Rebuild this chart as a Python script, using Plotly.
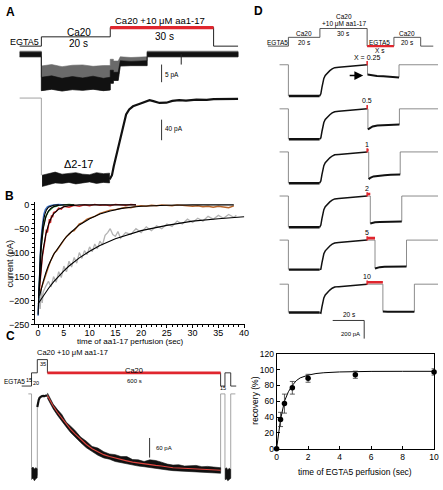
import plotly.graph_objects as go

W, H = 443, 490
FONT = "Liberation Sans, Arial, sans-serif"
RED = "#e0262e"
SKEL = "#6e6e6e"

# ======================= DATA =======================
# Panel A — perfusion protocol (s from start of Ca20; level 0=EGTA5, 1=Ca20, 2=Ca20+aa1-17)
A_PROTO_T = [-6.3, 0, 20, 50, 57.1]
A_PROTO_LEVEL = [0, 1, 2, 0, 0]
A_AA_T = [20, 50]

# Panel A — upper record (pA), envelopes of the noisy current
A1_T = [-6.3, 0.0, 0.0, 3.0, 6.0, 9.0, 12.0, 15.0, 18.0, 20.0, 20.0, 20.9, 20.9, 22.3, 22.9, 26.0, 30.7, 30.7, 57.1]
A1_CORE_HI = [0.5, 0.5, -6.6, -6.2, -6.9, -6.4, -6.8, -6.3, -6.9, -6.6, -4.6, -4.6, -5.2, -5.2, -1.9, -2.1, -1.9, 0.5, 0.5]
A1_CORE_LO = [-0.8, -0.8, -10.4, -10.0, -10.5, -10.1, -10.3, -10.0, -10.4, -10.2, -8.3, -8.3, -7.5, -7.5, -3.4, -3.3, -3.3, -0.8, -0.8]
A1_HALO_HI = [0.8, 0.8, -3.4, -3.0, -3.6, -3.2, -3.1, -3.5, -3.3, -3.3, -1.5, -1.5, -2.0, -2.0, -0.8, -1.0, -0.8, 0.8, 0.8]
A1_SPIKE_T = [40.6, 40.6]
A1_SPIKE_V = [0.0, -3.0]
A_SCALE1_PA = 5

# Panel A — lower record (Δ2-17), pA
A2_LEAD_T = [-6.3, 0, 0]
A2_LEAD_V = [0, 0, -150]
A2_BOT_T = [0.2, 2, 4, 6, 8, 10, 12, 14, 16, 18, 19.8]
A2_BOT_HI = [-150, -147, -144, -148, -146, -145, -148, -149, -145, -147, -146]
A2_BOT_LO = [-172, -168, -165, -166, -164, -167, -165, -163, -166, -164, -165]
A2_REC_T = [19.8, 20.5, 21, 22, 23, 24, 24.6, 25.5, 26.6, 28.6, 30.6, 31.4, 32.5, 34.3, 36.3, 38, 40, 42, 45, 48, 50, 53, 57.1]
A2_REC_V = [-158, -150, -133, -105, -78, -48, -32, -22, -16, -11, -6, -4, -6, -9.5, -9, -5.5, -4, -5, -3, -3.5, -2, -2, -1.5]
A_SCALE2_PA = 40

# Panel B — current during aa1-17 perfusion (s, pA)
B_BLUE_T = [0, 0.1, 0.2, 0.35, 0.5, 0.7, 0.9, 1.1, 1.4, 1.8, 2.3, 3, 4, 5]
B_BLUE_V = [-232, -200, -160, -118, -85, -55, -35, -20, -10, -4, -2, 0, 1, 0]
B_GREEN_T = [0.1, 0.3, 0.5, 0.7, 1, 1.3, 1.6, 2, 2.5, 3, 3.5, 4, 5, 6, 7]
B_GREEN_V = [-200, -135, -100, -75, -45, -32, -22, -14, -8, -4, -3, -1, 0, 1, 0]
B_RED_T = [0.2, 0.4, 0.6, 0.8, 1, 1.2, 1.4, 1.6, 1.8, 2, 2.2, 2.4, 2.6, 2.8, 3, 3.5, 4, 4.5, 5, 6, 7, 8, 9, 10, 11, 12, 13, 14, 15, 16, 17, 18, 19]
B_RED_V = [-185, -150, -135, -110, -98, -80, -70, -52, -58, -45, -30, -38, -22, -26, -16, -14, -7, -9, -3, -5, -1, -3, 0, -2, 1, -1, 0, -2, 1, 0, -1, 1, 0]
B_BROWN_T = [0.3, 0.5, 0.8, 1, 1.3, 1.6, 2, 2.4, 2.8, 3.2, 3.6, 4, 4.5, 5, 5.5, 6, 6.5, 7, 7.5, 8, 8.5, 9, 9.5, 10,
             11, 12, 13, 14, 15, 16, 17, 18, 19, 20, 21, 22, 23, 24, 25, 26, 27, 28, 29, 30, 31, 32, 33, 34, 35, 36, 37, 38]
B_BROWN_V = [-185, -178, -168, -160, -150, -140, -130, -118, -110, -100, -96, -90, -80, -75, -66, -62, -56, -54, -48, -40, -38, -34, -30, -28,
             -24, -18, -15, -11, -10, -7, -5, -6, -3, -2, -3, -1, -2, 0, -1, -2, 0, -1, -2, -3, -2, -4, -3, -5, -3, -4, -6, -2]
B_GRAY_T = [0, 0.2, 0.4, 0.6, 0.8, 1, 1.5, 2, 2.5, 3, 3.5, 4, 4.5, 5, 5.5, 6, 6.5, 7, 7.5, 8, 8.5, 9, 9.5, 10, 10.5, 11, 11.5, 12,
            12.5, 13, 13.5, 14, 14.5, 15, 15.5, 16, 17, 18, 19, 20, 21, 22, 23, 24, 25, 26, 27, 28, 29, 30, 31, 32, 33, 34, 35, 36, 37, 38, 38.5]
B_GRAY_V = [-228, -190, -218, -175, -205, -182, -170, -160, -172, -150, -162, -140, -152, -128, -140, -118, -130, -110, -122, -100, -112,
            -96, -104, -88, -98, -82, -92, -76, -84, -64, -58, -50, -62, -66, -56, -70, -58, -62, -50, -58, -46, -54, -44, -50, -40, -45,
            -34, -40, -30, -37, -28, -34, -24, -30, -22, -28, -20, -26, -22]
# fitted curves (black)
B_FIT_BLUE_T = [0, 0.2, 0.4, 0.6, 0.8, 1.0, 1.3, 1.6, 2, 3, 4]
B_FIT_BLUE_V = [-230, -158, -108, -74, -51, -35, -20, -11, -5, -1, 0]
B_FIT_GREEN_T = [0.1, 0.3, 0.6, 1, 1.5, 2, 2.5, 3, 4, 5, 7]
B_FIT_GREEN_V = [-195, -140, -90, -50, -25, -13, -7, -4, -1, 0, 0]
B_FIT_RED_T = [0.2, 0.4, 0.6, 0.8, 1, 1.5, 2, 2.5, 3, 4, 5, 6, 8, 10, 14, 19]
B_FIT_RED_V = [-180, -150, -127, -108, -92, -62, -42, -28, -19, -9, -4, -2, 0, 0, 0, 0]
B_FIT_BROWN_T = [0.3, 0.5, 1, 1.5, 2, 3, 4, 5, 6, 7, 8, 10, 12, 14, 16, 18, 20, 25, 30, 38]
B_FIT_BROWN_V = [-190, -180, -160, -142, -127, -104, -88, -73, -61, -51, -42, -29, -19, -13, -8, -5, -3, -1, 0, 0]
B_FIT_GRAY_T = [0, 1, 2, 3, 4, 5, 6, 8, 10, 12, 15, 18, 20, 25, 30, 35, 40]
B_FIT_GRAY_V = [-207, -190, -175, -161, -149, -138, -128, -111, -97, -85, -71, -60, -54, -43, -34, -29, -25]

# Panel C — protocol (s) and record (pA)
C_PROTO_T = [-34, 0, 20, 55, 655, 670, 690, 709]
C_PROTO_LEVEL = [0, 1, 2, 1, 0, 1, 0, 0]
C_RED_T = [55, 655]
C_SKEL_T = [-11, 0, 0, None, 20, 20, None, 655, 655, 670, 670, None, 690, 690, 706]
C_SKEL_V = [0, 0, -262, None, -250, -40, None, -234, 0, 0, -262, None, -258, 0, 0]
C_BOT1_T = [0.5, 5, 10, 15, 19.5]
C_BOT1_HI = [-228, -224, -230, -226, -229]
C_BOT1_LO = [-262, -258, -266, -260, -257]
C_AA_T = [20, 22, 25, 28, 31, 35, 40, 45, 50, 55]
C_AA_V = [-40, -28, -18, -12, -9, -7, -6, -7, -5, -5]
C_DEC_T = [55, 65, 75, 90, 105, 120, 135, 150, 170, 190, 210, 230, 250, 270, 290, 310, 330, 350, 370, 390, 410,
           430, 450, 470, 490, 510, 530, 550, 570, 590, 610, 630, 655]
C_FIT_V = [-5, -22, -37, -57, -75, -93, -108, -122, -140, -155, -168, -178, -186, -192, -197, -201, -205, -209, -212, -214,
           -216, -219, -221, -224, -226, -227, -228, -229, -230, -231, -232, -233, -234]
C_DEC_HI = [3, -12, -31, -48, -63, -86, -99, -111, -132, -145, -161, -166, -177, -184, -186, -192, -192, -201, -202, -207,
            -202, -204, -209, -215, -218, -217, -221, -220, -219, -223, -222, -224, -226]
C_DEC_LO = [-13, -31, -46, -66, -84, -101, -118, -131, -149, -165, -176, -188, -196, -200, -207, -210, -214, -218, -221, -223,
            -225, -228, -230, -233, -235, -236, -238, -238, -239, -241, -241, -242, -243]
C_BOT2_T = [670.5, 675, 680, 685, 689.5]
C_BOT2_HI = [-230, -226, -232, -228, -231]
C_BOT2_LO = [-264, -260, -266, -262, -259]
C_SCALE_PA = 60

# Panel D — protocol (schematic s) and six records
D_PROTO_T = [-13, 0, 20, 50, 67, 84, 92]
D_PROTO_LEVEL = [0, 1, 2, 0, 1, 0, 0]
D_RED_T = [50, 67]
D_X = [0.25, 0.5, 1, 2, 5, 10]
D_X_LABELS = ["X = 0.25", "0.5", "1", "2", "5", "10"]
D_BOTTOM = [-345, -335, -345, -345, -325, -313]
D_RISE_T = [20.6, 21.3, 22, 22.5, 23.4, 24.4, 25.3, 26.3, 27.8, 29.4, 32, 35, 38, 41.3, 45, 48, 50]
D_RISE_V = [-320, -250, -190, -151, -118, -97, -80, -65, -45, -32, -27, -22, -17, -11, -7, -3, 0]
D_POST_T = [0, 1, 3, 6, 10, 14, 18, 20]
D_POST_V = [
    [-108, -112, -118, -124, -128, -133, -138, -140],
    [-227, -215, -195, -185, -180, -176, -174, -173],
    [-300, -285, -270, -262, -256, -252, -250, -248],
    [-302, -296, -290, -287, -284, -282, -281, -280],
    [-313, -305, -298, -295, -293, -292, -292, -292],
    [-300, -304, -305, -304, -305, -303, -304, -303],
]
D_SCALE_S = 20
D_SCALE_PA = 200

# Panel D — recovery vs EGTA5 time
R_T = [0, 0.25, 0.5, 1, 2, 5, 10]
R_V = [0, 37, 57, 77, 89, 93.5, 97]
R_ERR = [0, 9, 12, 8, 5, 4.5, 4]
R_FIT_T = [0, 0.1, 0.25, 0.5, 0.75, 1, 1.25, 1.5, 2, 2.5, 3, 4, 5, 6, 8, 10]
R_FIT_V = [0, 17, 37, 60, 72, 80, 86, 89.5, 93, 95, 96, 97, 97.5, 97.7, 97.8, 97.8]

# ======================= FIGURE =======================
fig = go.Figure()
layout_axes = {}
annotations = []
counter = [0]


def lin(pa, va, pb, vb):
    return lambda p: va + (p - pa) * (vb - va) / (pb - pa)


def axes(box, xm, ym, xextra=None, yextra=None):
    counter[0] += 1
    k = counter[0]
    s = "" if k == 1 else str(k)
    L, T, R, B = box
    fx, fy = lin(*xm), lin(*ym)
    xa = dict(domain=[L / W, R / W], range=[fx(L), fx(R)], anchor="y" + s,
              visible=False, fixedrange=True, showgrid=False, zeroline=False)
    ya = dict(domain=[1 - B / H, 1 - T / H], range=[fy(B), fy(T)], anchor="x" + s,
              visible=False, fixedrange=True, showgrid=False, zeroline=False)
    if xextra:
        xa.update(xextra)
    if yextra:
        ya.update(yextra)
    layout_axes["xaxis" + s] = xa
    layout_axes["yaxis" + s] = ya
    return ("x" + s, "y" + s)


def line(ax, x, y, color="black", width=1.0, shape="linear"):
    fig.add_trace(go.Scatter(x=x, y=y, xaxis=ax[0], yaxis=ax[1], mode="lines",
                             line=dict(color=color, width=width, shape=shape),
                             showlegend=False, hoverinfo="skip", connectgaps=False,
                             cliponaxis=False))


def band(ax, t, hi, lo, color):
    t = list(t)
    fig.add_trace(go.Scatter(x=t + t[::-1], y=list(hi) + list(lo)[::-1], xaxis=ax[0], yaxis=ax[1],
                             mode="lines", fill="toself", fillcolor=color,
                             line=dict(color=color, width=0.6), showlegend=False,
                             hoverinfo="skip", cliponaxis=False))


def ann(text, px, py, size=9, xanchor="center", yanchor="middle", angle=0, bold=False):
    annotations.append(dict(text=("<b>%s</b>" % text) if bold else text, x=px / W, y=1 - py / H,
                            xref="paper", yref="paper", showarrow=False, textangle=angle,
                            xanchor=xanchor, yanchor=yanchor, borderpad=0,
                            font=dict(family=FONT, size=size, color="black")))


# ---------------- Panel A ----------------
axAp = axes((10, 6, 243, 46), (40, 0, 110, 20), (42, 0, 23, 2))
axA1 = axes((10, 44, 243, 92), (40, 0, 110, 20), (50, 0, 68, -5))
axA2 = axes((10, 90, 243, 192), (40, 0, 110, 20), (95, 0, 116, -40))

line(axAp, A_PROTO_T, A_PROTO_LEVEL, "#222", 1.0, "hv")
line(axAp, A_AA_T, [A_PROTO_LEVEL[2]] * 2, RED, 3.2)

band(axA1, A1_T, A1_HALO_HI, A1_CORE_LO, "#6a6a6a")
band(axA1, A1_T, A1_CORE_HI, A1_CORE_LO, "#111111")
line(axA1, A1_SPIKE_T, A1_SPIKE_V, "#222", 1.0)
line(axA1, [34.9, 34.9], [-3, -3 - A_SCALE1_PA], "#333", 1.0)

line(axA2, A2_LEAD_T, A2_LEAD_V, "#999", 0.9)
band(axA2, A2_BOT_T, A2_BOT_HI, A2_BOT_LO, "#111111")
line(axA2, A2_REC_T, A2_REC_V, "#111", 2.2)
line(axA2, [34.9, 34.9], [-42, -42 - A_SCALE2_PA], "#333", 1.0)

ann("A", 3, 7, 12, "left", bold=True)
ann("EGTA5", 23, 38, 9)
ann("Ca20", 78, 28, 10)
ann("20 s", 78, 39, 10)
ann("Ca20 +10 μM aa1-17", 161, 16, 9.5)
ann("30 s", 165, 32, 10)
ann("5 pA", 165, 71, 6.5, "left")
ann("40 pA", 165, 127, 6.5, "left")
ann("Δ2-17", 78, 162, 11)

# ---------------- Panel B ----------------
tickf = dict(family=FONT, size=9, color="black")
axB = axes((33.5, 201, 247, 326), (36.7, 0, 246, 40), (204, 0, 326, -250),
           xextra=dict(visible=True, showline=True, linecolor="black", linewidth=1, ticks="outside",
                       ticklen=3, tickcolor="black", tickmode="linear", tick0=0, dtick=5, tickfont=tickf,
                       ticklabelstandoff=-3,
                       minor=dict(ticks="outside", ticklen=2, tickcolor="black", dtick=1, tick0=0)),
           yextra=dict(visible=True, showline=True, linecolor="black", linewidth=1, ticks="outside",
                       ticklen=3, tickcolor="black", tickmode="linear", tick0=-250, dtick=50, tickfont=tickf,
                       minor=dict(ticks="outside", ticklen=2, tickcolor="black", dtick=10, tick0=-250)))
line(axB, B_GRAY_T, B_GRAY_V, "#b3b3b3", 1.3)
line(axB, B_BROWN_T, B_BROWN_V, "#b8652a", 1.4)
line(axB, B_RED_T, B_RED_V, "#d42a2a", 1.4)
line(axB, B_GREEN_T, B_GREEN_V, "#3c9a43", 1.4)
line(axB, B_BLUE_T, B_BLUE_V, "#3f74c6", 1.4)
for ft, fv in [(B_FIT_GRAY_T, B_FIT_GRAY_V), (B_FIT_BROWN_T, B_FIT_BROWN_V), (B_FIT_RED_T, B_FIT_RED_V),
               (B_FIT_GREEN_T, B_FIT_GREEN_V), (B_FIT_BLUE_T, B_FIT_BLUE_V)]:
    line(axB, ft, fv, "black", 1.1)
ann("B", 2, 195, 12, "left", bold=True)
ann("current (pA)", 8, 264, 9, angle=-90)
ann("time of aa1-17 perfusion (sec)", 131, 344, 8)

# ---------------- Panel C ----------------
axCp = axes((2, 345, 243, 392), (30, 0, 206, 600), (389, 0, 362, 2))
axC = axes((2, 388, 243, 490), (30, 0, 206, 600), (397, 0, 417, -60))
line(axCp, C_PROTO_T, C_PROTO_LEVEL, "#222", 0.9, "hv")
line(axCp, C_RED_T, [C_PROTO_LEVEL[3]] * 2, RED, 2.6)

line(axC, C_SKEL_T, C_SKEL_V, "#9a9a9a", 0.9)
band(axC, C_BOT1_T, C_BOT1_HI, C_BOT1_LO, "#111111")
line(axC, C_AA_T, C_AA_V, "#111", 2.2)
band(axC, C_DEC_T, C_DEC_HI, C_DEC_LO, "#111111")
band(axC, C_BOT2_T, C_BOT2_HI, C_BOT2_LO, "#111111")
line(axC, C_DEC_T, C_FIT_V, "#e0453f", 1.1)
line(axC, [409, 409], [-135, -135 - C_SCALE_PA], "#333", 1.0)

ann("C", 3, 338, 12, "left", bold=True)
ann("Ca20 +10 μM aa1-17", 35, 355, 7.5, "left")
ann("35", 41.5, 366, 5.5)
ann("Ca20", 134, 373, 7.5)
ann("600 s", 135, 384, 6)
ann("EGTA5", 1, 384, 6.5, "left")
ann("15", 27, 383, 5.5)
ann("20", 35, 386, 5.5)
ann("15", 225, 391, 5.5)
ann("60 pA", 155, 452, 6, "left")

# ---------------- Panel D: protocol + traces ----------------
axDp = axes((262, 4, 443, 50), (291, 0, 323, 20), (42, 0, 24, 2))
line(axDp, D_PROTO_T, D_PROTO_LEVEL, "#444", 0.9, "hv")
line(axDp, D_RED_T, [D_PROTO_LEVEL[3]] * 2, RED, 2.4)
ann("D", 255, 6, 12, "left", bold=True)
ann("EGTA5", 280, 38, 6.5)
ann("Ca20", 307, 29, 6.5)
ann("20 s", 307, 38, 6.5)
ann("Ca20", 347, 12, 6.5)
ann("+10 μM aa1-17", 347, 19, 6.5)
ann("30 s", 347, 29, 6.5)
ann("EGTA5", 384, 38, 6.5)
ann("X s", 384, 46, 6.5)
ann("Ca20", 412, 29, 6.5)
ann("20 s", 412, 38, 6.5)

D_BASE_PX = [61, 106, 150, 195, 240, 285]
for k, (x, bottom, post, lab) in enumerate(zip(D_X, D_BOTTOM, D_POST_V, D_X_LABELS)):
    b = D_BASE_PX[k]
    extra_bottom = 62 if k == len(D_X) - 1 else 40
    ax = axes((262, b - 14, 443, b + extra_bottom), (291, 0, 323, 20), (b, 0, b + 32, -345.6))
    t_on = 50 + x
    t_off = 70 + x
    skel_t = [-5.6, 0, 0, None, 19.8, 20, None, 50, t_on, t_on, None, t_off, t_off, 95.6]
    skel_v = [0, 0, bottom, None, bottom, bottom, None, 0, 0, post[0], None, post[-1], 0, 0]
    line(ax, skel_t, skel_v, SKEL, 0.8)
    line(ax, [0.3, 19.8], [bottom, bottom], "#111", 2.4)
    line(ax, [19.8] + D_RISE_T, [bottom] + D_RISE_V, "#111", 1.5)
    line(ax, [t_on + pt for pt in D_POST_T], post, "#111", 2.0)
    line(ax, [50, t_on], [22, 22], RED, 2.6)
    fig.add_trace(go.Scatter(x=[50], y=[18], xaxis=ax[0], yaxis=ax[1], mode="markers",
                             marker=dict(symbol="line-ns", size=3, line=dict(color=RED, width=1.5)),
                             showlegend=False, hoverinfo="skip", cliponaxis=False))
    ann(lab, 371, b - 7 if k == 0 else b - 8, 7)
    if k == 0:
        annotations.append(dict(x=lin(291, 0, 323, 20)(367), y=-119, xref=ax[0], yref=ax[1],
                                ax=-15, ay=0, axref="pixel", ayref="pixel", showarrow=True,
                                arrowhead=2, arrowsize=1.1, arrowwidth=1.6, arrowcolor="black", text=""))
    if k == len(D_X) - 1:
        fx = lin(291, 0, 323, 20)
        t1 = fx(368)
        line(ax, [t1 - D_SCALE_S, t1, t1], [-400, -400, -400 - D_SCALE_PA], "#222", 0.9)

ann("20 s", 353, 316, 6.5)
ann("200 pA", 365, 336, 6, "right")

# ---------------- Panel D: recovery ----------------
tickr = dict(family=FONT, size=8.5, color="black")
axR = axes((279, 356, 439, 453), (279, 0, 439, 10), (453, 0, 356, 120),
           xextra=dict(visible=True, showline=True, mirror=True, linecolor="black", linewidth=1,
                       ticks="inside", ticklen=3, tickcolor="black", tickmode="linear", tick0=0, dtick=2,
                       tickfont=tickr, ticklabeloverflow="allow"),
           yextra=dict(visible=True, showline=True, mirror=True, linecolor="black", linewidth=1,
                       ticks="inside", ticklen=3, tickcolor="black", tickmode="linear", tick0=0, dtick=20,
                       tickfont=tickr))
line(axR, R_FIT_T, R_FIT_V, "black", 1.0)
fig.add_trace(go.Scatter(x=R_T, y=R_V, xaxis=axR[0], yaxis=axR[1], mode="markers",
                         marker=dict(color="black", size=5.5),
                         error_y=dict(type="data", array=R_ERR, color="#333", thickness=0.8, width=2.5),
                         showlegend=False, hoverinfo="skip", cliponaxis=False))
ann("recovery (%)", 257, 404, 8.5, angle=-90)
ann("time of EGTA5 perfusion (sec)", 359, 477, 8.5)

fig.update_layout(width=W, height=H, margin=dict(l=0, r=0, t=0, b=0), autosize=False,
                  paper_bgcolor="white", plot_bgcolor="rgba(0,0,0,0)", showlegend=False,
                  font=dict(family=FONT, size=9, color="black"), annotations=annotations,
                  **layout_axes)
fig.write_html("out.html", config={"displayModeBar": False, "staticPlot": True},
               post_script="document.body.style.margin='0px';document.body.style.overflow='hidden';")
